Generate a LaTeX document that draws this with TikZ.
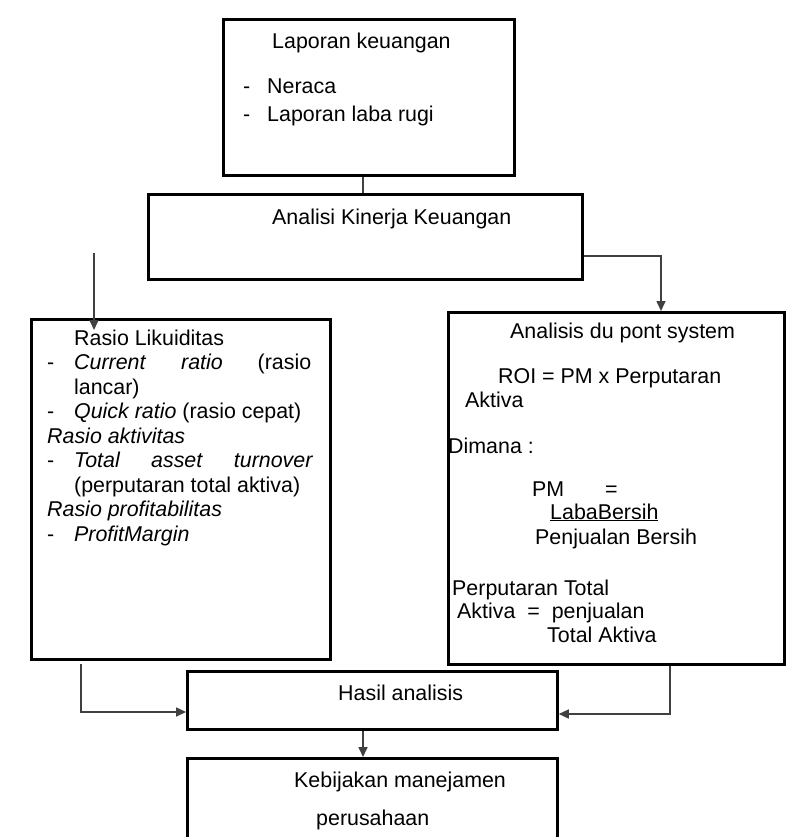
\documentclass[tikz,border=0pt]{standalone}
\usepackage{fontspec}
\setmainfont{Liberation Sans}
\usetikzlibrary{arrows.meta}
\begin{document}
\begin{tikzpicture}[x=1pt,y=-1pt,
  box/.style={draw=black,line width=2.8pt,inner sep=0pt,anchor=north west},
  txt/.style={anchor=base west,inner sep=0pt,font=\fontsize{21.4}{24.5}\selectfont},
  conn/.style={draw=black!75,line width=1.6pt},
  arr/.style={conn,-{Triangle[length=10pt,width=9pt]}}]
\useasboundingbox[fill=white] (0,0) rectangle (790,837);
% boxes
\node[box,minimum width=291pt,minimum height=156pt] (b1) at (222,18) {};
\node[box,minimum width=434pt,minimum height=85pt] (b2) at (147,193) {};
\node[box,minimum width=299pt,minimum height=340pt] (b3) at (30,318) {};
\node[box,minimum width=336pt,minimum height=352pt] (b4) at (447,311) {};
\node[box,minimum width=370pt,minimum height=58pt] (b5) at (186,670) {};
\node[box,minimum width=370pt,minimum height=100pt] (b6) at (186,757) {};
% box 1
\node[txt] (t1a) at (272,49) {Laporan keuangan};
\node[txt] (t1b) at (243,94) {-};
\node[txt] (t1c) at (267,94) {Neraca};
\node[txt] (t1d) at (243,122) {-};
\node[txt] (t1e) at (267,122) {Laporan laba rugi};
% box 2
\node[txt] (t2) at (272,224) {Analisi Kinerja Keuangan};
% box 3
\node[txt] (t3) at (47,345) {\parbox[t]{280pt}{\fontsize{21.4}{24.5}\selectfont
  \hspace*{27pt}Rasio Likuiditas\\
  \makebox[27pt][l]{-}\makebox[237pt][s]{\textit{Current} \textit{ratio} (rasio}\\
  \hspace*{27pt}lancar)\\
  \makebox[27pt][l]{-}\textit{Quick ratio} (rasio cepat)\\
  \textit{Rasio aktivitas}\\
  \makebox[27pt][l]{-}\makebox[239pt][s]{\textit{Total} \textit{asset} \textit{turnover}}\\
  \hspace*{27pt}(perputaran total aktiva)\\
  \textit{Rasio profitabilitas}\\
  \makebox[27pt][l]{-}\textit{ProfitMargin}}};
% box 4
\node[txt] (t4a) at (510,338) {Analisis du pont system};
\node[txt] (t4b) at (498,383) {ROI = PM x Perputaran};
\node[txt] (t4c) at (465,407) {Aktiva};
\node[txt] (t4d) at (448,453) {Dimana :};
\node[txt] (t4e) at (532,496) {PM};
\node[txt] (t4f) at (605,496) {=};
\node[txt] (t4g) at (550,519) {\underline{LabaBersih}};
\node[txt] (t4h) at (535,544) {Penjualan Bersih};
\node[txt] (t4i) at (452,595) {Perputaran Total};
\node[txt] (t4j) at (457,618) {Aktiva \ = \ penjualan};
\node[txt] (t4k) at (547,642) {Total Aktiva};
% box 5, 6
\node[txt] (t5) at (338,700) {Hasil analisis};
\node[txt] (t6a) at (294,787) {Kebijakan manejamen};
\node[txt] (t6b) at (316,825) {perusahaan};
% connector coordinates
\coordinate (c12) at (363,0);
\coordinate (cr) at (661,256);
\coordinate (cl0) at (94,253);
\coordinate (cl1) at (94,330);
\coordinate (cbl) at (81,664);
\coordinate (cbly) at (0,712);
\coordinate (cbr) at (670,663);
\coordinate (cbry) at (0,714);
% connectors
\draw[conn] (b1.south -| c12) -- (b2.north -| c12);
\draw[arr] (b2.east |- cr) -| (b4.north -| cr);
\draw[arr] (cl0) -- (cl1);
\draw[arr] (cbl) |- (b5.west |- cbly);
\draw[arr] (b4.south -| cbr) |- (b5.east |- cbry);
\draw[arr] (b5.south -| c12) -- (b6.north -| c12);
\end{tikzpicture}
\end{document}
